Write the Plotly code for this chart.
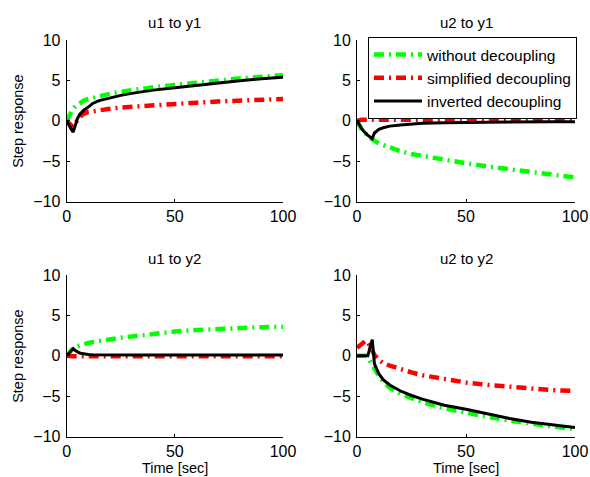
import plotly.graph_objects as go

# Sample times [sec]
t = [0, 1, 2, 3, 4, 5, 6, 7, 8, 10, 12, 15, 20, 25, 30, 40, 50, 60, 70, 80, 90, 100]

# u1 -> y1
y11_without = [0, 0.6, 1.1, 1.5, 1.8, 2.0, 2.2, 2.35, 2.5, 2.7, 2.85, 3.05, 3.35, 3.6, 3.8, 4.15, 4.45, 4.75, 5.0, 5.25, 5.45, 5.65]
y11_simplified = [0, -0.3, -0.6, -0.8, -0.3, 0.2, 0.5, 0.7, 0.9, 1.1, 1.2, 1.35, 1.5, 1.65, 1.75, 1.95, 2.1, 2.25, 2.4, 2.5, 2.6, 2.7]
y11_inverted = [0, -0.6, -1.0, -1.4, -0.5, 0.3, 0.8, 1.1, 1.35, 1.7, 2.15, 2.5, 2.85, 3.15, 3.4, 3.8, 4.1, 4.4, 4.7, 4.95, 5.2, 5.4]

# u2 -> y1
y21_without = [0, -0.6, -1.0, -1.35, -1.65, -1.9, -2.1, -2.3, -2.5, -2.8, -3.0, -3.3, -3.75, -4.1, -4.35, -4.8, -5.25, -5.65, -6.0, -6.35, -6.7, -7.0]
y21_simplified = [0, 0.15, 0.15, 0.15, 0.15, 0.15, 0.15, 0.15, 0.15, 0.15, 0.15, 0.15, 0.15, 0.15, 0.15, 0.15, 0.15, 0.15, 0.15, 0.15, 0.15, 0.15]
y21_inverted = [0, -0.5, -0.9, -1.25, -1.55, -1.8, -2.0, -2.2, -1.5, -1.05, -0.85, -0.65, -0.5, -0.4, -0.3, -0.22, -0.18, -0.15, -0.12, -0.1, -0.1, -0.1]

# u1 -> y2
y12_without = [0, 0.35, 0.7, 0.95, 1.1, 1.2, 1.3, 1.4, 1.5, 1.6, 1.7, 1.85, 2.05, 2.25, 2.4, 2.75, 3.0, 3.2, 3.35, 3.45, 3.55, 3.6]
y12_simplified = [0, -0.05, -0.05, -0.05, -0.05, -0.05, -0.05, -0.05, -0.05, -0.05, -0.05, -0.05, -0.05, -0.05, -0.05, -0.05, -0.05, -0.05, -0.05, -0.05, -0.05, -0.05]
y12_inverted = [0, 0.3, 0.6, 0.9, 0.65, 0.45, 0.35, 0.28, 0.22, 0.17, 0.14, 0.12, 0.1, 0.1, 0.1, 0.1, 0.1, 0.1, 0.1, 0.1, 0.1, 0.1]

# u2 -> y2
y22_without = [0, 0, 0, 0, 0, -0.2, -0.7, -1.2, -1.7, -2.5, -3.2, -3.95, -4.7, -5.3, -5.75, -6.5, -7.05, -7.55, -8.0, -8.4, -8.75, -9.05]
y22_simplified = [1.0, 1.2, 1.45, 1.7, 1.85, 1.7, 1.2, 0.6, 0.1, -0.5, -0.9, -1.2, -1.65, -2.05, -2.4, -2.9, -3.3, -3.6, -3.85, -4.05, -4.25, -4.35]
y22_inverted = [0, 0, 0, 0, 0, 0, 1.1, 2.0, -1.0, -2.2, -2.95, -3.6, -4.35, -4.9, -5.35, -6.1, -6.6, -7.15, -7.75, -8.2, -8.55, -8.85]

panel_titles = ["u1 to y1", "u2 to y1", "u1 to y2", "u2 to y2"]
series_names = ["without decoupling", "simplified decoupling", "inverted decoupling"]
x_ticks = [0, 50, 100]
y_ticks = [-10, -5, 0, 5, 10]

panels = [
    (y11_without, y11_simplified, y11_inverted),
    (y21_without, y21_simplified, y21_inverted),
    (y12_without, y12_simplified, y12_inverted),
    (y22_without, y22_simplified, y22_inverted),
]

W, H = 590, 477
FONT = "Liberation Sans, Arial, Helvetica, sans-serif"

# plot-area pixel boxes (left, right, top, bottom)
boxes = [
    (66.7, 283.0, 40.0, 201.7),
    (357.0, 575.0, 40.0, 201.7),
    (66.7, 283.0, 275.0, 436.7),
    (357.0, 575.0, 275.0, 436.7),
]

styles = [
    dict(color="#00ff00", width=4.5, dash="10px,5px,2px,5px"),
    dict(color="#ff0000", width=4.5, dash="10px,5px,2px,5px"),
    dict(color="#000000", width=3, dash="solid"),
]

fig = go.Figure()
layout = {}
annotations = []

for i, (series, box, title) in enumerate(zip(panels, boxes, panel_titles)):
    k = "" if i == 0 else str(i + 1)
    for j, (vals, name, st) in enumerate(zip(series, series_names, styles)):
        fig.add_trace(go.Scatter(
            x=t, y=vals, mode="lines", name=name, line=st,
            xaxis="x" + k, yaxis="y" + k,
            showlegend=(i == 1), legendrank=j + 1,
        ))
    l, r, tp, b = box
    axis_common = dict(
        showline=True, linecolor="black", linewidth=1, mirror=False,
        ticks="inside", ticklen=3, tickcolor="black", tickwidth=1,
        showgrid=False, zeroline=False, automargin=False,
        tickfont=dict(family=FONT, size=16, color="black"),
    )
    layout["xaxis" + k] = dict(
        domain=[l / W, r / W], range=[0, 100], tickvals=x_ticks,
        anchor="y" + k, **axis_common,
    )
    layout["yaxis" + k] = dict(
        domain=[1 - b / H, 1 - tp / H], range=[-10, 10], tickvals=y_ticks,
        anchor="x" + k, ticklabelstandoff=2, **axis_common,
    )
    cx = (l + r) / 2
    annotations.append(dict(
        text=title, x=cx / W, y=1 - (tp - 17) / H, xref="paper", yref="paper",
        xanchor="center", yanchor="middle", showarrow=False,
        font=dict(family=FONT, size=15, color="black"),
    ))
    if i in (0, 2):
        annotations.append(dict(
            text="Step response", x=18 / W, y=1 - ((tp + b) / 2) / H,
            xref="paper", yref="paper", xanchor="center", yanchor="middle",
            textangle=-90, showarrow=False,
            font=dict(family=FONT, size=14.5, color="black"),
        ))
    if i in (2, 3):
        annotations.append(dict(
            text="Time [sec]", x=cx / W, y=1 - 467.5 / H,
            xref="paper", yref="paper", xanchor="center", yanchor="middle",
            showarrow=False, borderpad=0,
            font=dict(family=FONT, size=14.5, color="black"),
        ))

fig.update_layout(
    width=W, height=H,
    margin=dict(l=0, r=0, t=0, b=0),
    paper_bgcolor="white", plot_bgcolor="white",
    font=dict(family=FONT, size=15, color="black"),
    annotations=annotations,
    showlegend=True,
    legend=dict(
        x=368 / W, y=1 - 37 / H, xanchor="left", yanchor="top",
        bgcolor="white", bordercolor="black", borderwidth=1,
        font=dict(family=FONT, size=15.5, color="black"),
        tracegroupgap=0, itemwidth=48,
    ),
    **layout,
)

fig.write_html("out.html")
